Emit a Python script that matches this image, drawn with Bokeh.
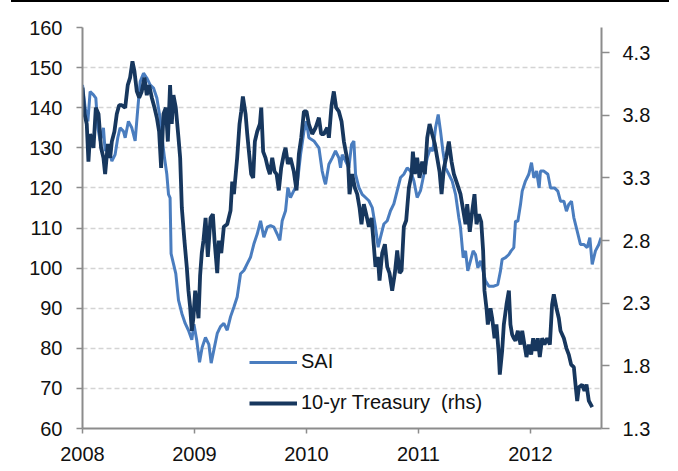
from bokeh.plotting import figure
from bokeh.models import (Range1d, LinearAxis, FixedTicker, PrintfTickFormatter,
                          Legend, LegendItem, Div)
from bokeh.layouts import column
from bokeh.embed import file_html
from bokeh.resources import INLINE

# ---------------- data ----------------
sai_t = [2008.000, 2008.024, 2008.048, 2008.068, 2008.098, 2008.119, 2008.137, 2008.158, 2008.187, 2008.202,
         2008.232, 2008.262, 2008.291, 2008.315, 2008.336, 2008.366, 2008.381, 2008.410, 2008.440, 2008.470,
         2008.494, 2008.515, 2008.545, 2008.574, 2008.604, 2008.634, 2008.664, 2008.693, 2008.714, 2008.732,
         2008.753, 2008.768, 2008.782, 2008.791, 2008.812, 2008.833, 2008.857, 2008.887, 2008.917, 2008.946,
         2008.976, 2008.995, 2009.020, 2009.045, 2009.068, 2009.098, 2009.128, 2009.149, 2009.173, 2009.203,
         2009.232, 2009.262, 2009.292, 2009.322, 2009.352, 2009.381, 2009.411, 2009.441, 2009.471, 2009.500,
         2009.530, 2009.560, 2009.590, 2009.619, 2009.649, 2009.679, 2009.709, 2009.738, 2009.762, 2009.783,
         2009.813, 2009.834, 2009.857, 2009.887, 2009.917, 2009.947, 2009.977, 2010.000, 2010.021, 2010.066,
         2010.111, 2010.140, 2010.161, 2010.170, 2010.200, 2010.230, 2010.259, 2010.289, 2010.304, 2010.319,
         2010.349, 2010.378, 2010.402, 2010.423, 2010.438, 2010.468, 2010.497, 2010.527, 2010.557, 2010.587,
         2010.616, 2010.640, 2010.661, 2010.691, 2010.721, 2010.750, 2010.780, 2010.810, 2010.840, 2010.869,
         2010.899, 2010.929, 2010.959, 2010.988, 2011.018, 2011.048, 2011.078, 2011.107, 2011.128, 2011.152,
         2011.176, 2011.197, 2011.218, 2011.241, 2011.271, 2011.301, 2011.331, 2011.360, 2011.375, 2011.399,
         2011.420, 2011.440, 2011.464, 2011.488, 2011.509, 2011.530, 2011.554, 2011.577, 2011.598, 2011.628,
         2011.673, 2011.708, 2011.732, 2011.747, 2011.777, 2011.807, 2011.827, 2011.851, 2011.866, 2011.887,
         2011.911, 2011.926, 2011.955, 2011.985, 2012.009, 2012.030, 2012.054, 2012.077, 2012.089, 2012.119,
         2012.155, 2012.179, 2012.214, 2012.244, 2012.268, 2012.298, 2012.321, 2012.342, 2012.366, 2012.387,
         2012.417, 2012.446, 2012.476, 2012.506, 2012.530, 2012.551, 2012.580, 2012.610, 2012.630]
sai_v = [145.7, 139.9, 136.6, 144.0, 143.2, 142.4, 135.0, 131.7, 135.0, 129.2,
         130.0, 126.7, 128.3, 132.5, 135.0, 134.1, 132.5, 136.6, 135.0, 131.7,
         139.9, 146.5, 148.6, 147.4, 145.7, 144.9, 142.4, 137.4, 131.7, 127.5,
         123.4, 118.4, 117.5, 103.6, 101.1, 98.6, 92.0, 88.7, 86.2, 84.5,
         82.1, 86.0, 82.0, 76.5, 80.2, 82.7, 81.0, 76.3, 79.6, 83.7,
         85.4, 86.2, 84.5, 87.9, 90.3, 92.8, 98.6, 99.4, 101.1, 102.7,
         106.0, 108.5, 111.8, 107.7, 110.2, 110.6, 110.2, 108.5, 106.9, 111.8,
         114.3, 120.1, 117.6, 119.3, 120.9, 128.3, 134.1, 136.6, 132.5, 131.7,
         130.0, 124.2, 121.7, 120.9, 125.9, 127.5, 129.2, 127.5, 125.0, 128.3,
         126.7, 125.0, 130.8, 131.7, 123.4, 120.1, 118.4, 117.6, 116.8, 115.1,
         110.2, 105.2, 107.7, 111.0, 111.8, 114.3, 116.0, 119.3, 122.6, 123.4,
         125.0, 124.2, 121.7, 117.6, 119.3, 123.4, 127.5, 130.0, 129.2, 135.0,
         138.3, 134.1, 129.2, 125.0, 123.4, 121.7, 118.4, 112.6, 110.1, 102.6,
         104.3, 99.3, 101.8, 104.3, 103.4, 100.1, 101.8, 99.3, 96.8, 95.5,
         95.5, 95.9, 99.3, 102.2, 102.6, 103.4, 104.3, 105.1, 111.7, 111.7,
         115.9, 119.2, 121.7, 123.4, 126.3, 122.5, 124.2, 120.0, 124.2, 124.2,
         123.4, 120.0, 120.0, 119.2, 116.7, 116.7, 114.2, 115.9, 116.7, 112.6,
         109.2, 105.9, 105.9, 105.1, 107.6, 100.9, 104.3, 105.9, 107.6]

tsy_t = [2008.000, 2008.018, 2008.038, 2008.053, 2008.068, 2008.083, 2008.098, 2008.119, 2008.143, 2008.166,
         2008.187, 2008.202, 2008.226, 2008.247, 2008.262, 2008.285, 2008.306, 2008.327, 2008.351, 2008.381,
         2008.404, 2008.425, 2008.446, 2008.464, 2008.485, 2008.506, 2008.529, 2008.553, 2008.574, 2008.595,
         2008.619, 2008.643, 2008.664, 2008.684, 2008.702, 2008.723, 2008.744, 2008.762, 2008.782, 2008.797,
         2008.812, 2008.833, 2008.857, 2008.872, 2008.887, 2008.910, 2008.931, 2008.946, 2008.961, 2008.976,
         2008.991, 2009.006, 2009.021, 2009.036, 2009.050, 2009.065, 2009.080, 2009.099, 2009.119, 2009.143,
         2009.164, 2009.179, 2009.203, 2009.218, 2009.239, 2009.262, 2009.292, 2009.322, 2009.337, 2009.352,
         2009.381, 2009.402, 2009.417, 2009.432, 2009.456, 2009.471, 2009.486, 2009.506, 2009.524, 2009.539,
         2009.560, 2009.584, 2009.596, 2009.613, 2009.634, 2009.655, 2009.673, 2009.694, 2009.715, 2009.733,
         2009.753, 2009.774, 2009.798, 2009.813, 2009.834, 2009.857, 2009.887, 2009.911, 2009.932, 2009.953,
         2009.977, 2010.000, 2010.021, 2010.051, 2010.081, 2010.111, 2010.131, 2010.155, 2010.185, 2010.200,
         2010.224, 2010.244, 2010.265, 2010.289, 2010.313, 2010.334, 2010.355, 2010.372, 2010.384, 2010.408,
         2010.432, 2010.453, 2010.474, 2010.491, 2010.512, 2010.533, 2010.557, 2010.581, 2010.602, 2010.616,
         2010.637, 2010.652, 2010.676, 2010.700, 2010.721, 2010.741, 2010.765, 2010.789, 2010.810, 2010.831,
         2010.849, 2010.869, 2010.890, 2010.914, 2010.938, 2010.950, 2010.968, 2010.988, 2011.009, 2011.033,
         2011.057, 2011.078, 2011.099, 2011.122, 2011.146, 2011.167, 2011.188, 2011.206, 2011.227, 2011.247,
         2011.271, 2011.295, 2011.316, 2011.346, 2011.375, 2011.405, 2011.420, 2011.435, 2011.458, 2011.479,
         2011.500, 2011.518, 2011.539, 2011.560, 2011.577, 2011.589, 2011.607, 2011.619, 2011.643, 2011.658,
         2011.679, 2011.696, 2011.717, 2011.726, 2011.747, 2011.762, 2011.786, 2011.807, 2011.821, 2011.836,
         2011.851, 2011.866, 2011.887, 2011.911, 2011.926, 2011.946, 2011.964, 2011.985, 2012.006, 2012.024,
         2012.045, 2012.065, 2012.083, 2012.104, 2012.125, 2012.149, 2012.173, 2012.193, 2012.208, 2012.232,
         2012.253, 2012.268, 2012.298, 2012.321, 2012.342, 2012.363, 2012.387, 2012.402, 2012.417, 2012.432,
         2012.461, 2012.482, 2012.500, 2012.521, 2012.551]
tsy_v = [4.02, 3.81, 3.73, 3.43, 3.65, 3.59, 3.54, 3.86, 3.81, 3.54,
         3.46, 3.33, 3.57, 3.46, 3.59, 3.67, 3.81, 3.88, 3.88, 3.86,
         4.04, 4.10, 4.23, 4.15, 3.99, 3.94, 3.99, 4.10, 3.96, 4.04,
         3.94, 3.86, 3.78, 3.67, 3.38, 3.81, 3.86, 3.59, 4.04, 3.73,
         3.96, 3.86, 3.62, 3.46, 3.06, 2.80, 2.59, 2.40, 2.27, 2.08,
         2.19, 2.40, 2.30, 2.18, 2.52, 2.70, 2.80, 2.98, 2.67, 2.98,
         3.01, 2.80, 2.54, 2.80, 2.70, 2.91, 2.93, 3.04, 3.27, 3.17,
         3.46, 3.73, 3.83, 3.95, 3.81, 3.65, 3.51, 3.33, 3.30, 3.59,
         3.67, 3.73, 3.86, 3.51, 3.46, 3.38, 3.33, 3.46, 3.35, 3.33,
         3.20, 3.38, 3.49, 3.54, 3.41, 3.46, 3.35, 3.20, 3.49, 3.62,
         3.83, 3.83, 3.73, 3.65, 3.70, 3.78, 3.65, 3.65, 3.70, 3.62,
         3.88, 3.99, 3.86, 3.83, 3.75, 3.59, 3.49, 3.41, 3.17, 3.33,
         3.22, 3.17, 3.06, 2.93, 3.09, 3.01, 2.91, 2.98, 2.75, 2.59,
         2.67, 2.48, 2.70, 2.77, 2.59, 2.54, 2.40, 2.54, 2.72, 2.54,
         2.56, 2.91, 2.96, 3.22, 3.33, 3.51, 3.33, 3.46, 3.30, 3.43,
         3.33, 3.62, 3.73, 3.65, 3.57, 3.46, 3.35, 3.17, 3.38, 3.46,
         3.59, 3.43, 3.33, 3.25, 3.17, 3.01, 2.93, 3.09, 2.87, 3.03,
         3.17, 2.93, 3.01, 2.95, 2.72, 2.40, 2.26, 2.13, 2.26, 2.18,
         2.02, 2.13, 1.89, 1.73, 1.92, 2.13, 2.29, 2.40, 2.13, 2.05,
         2.02, 2.00, 2.08, 1.97, 2.08, 1.97, 1.87, 1.97, 1.89, 2.02,
         1.92, 2.02, 1.87, 2.02, 1.97, 2.02, 1.97, 2.29, 2.37, 2.26,
         2.18, 2.08, 2.02, 1.94, 1.89, 1.81, 1.79, 1.65, 1.52, 1.63,
         1.65, 1.60, 1.65, 1.52, 1.47]

left_ticks = [60, 70, 80, 90, 100, 110, 120, 130, 140, 150, 160]
right_ticks = [1.3, 1.8, 2.3, 2.8, 3.3, 3.8, 4.3]
year_ticks = [2008, 2009, 2010, 2011, 2012]

SAI_COLOR = "#4a7dbf"
TSY_COLOR = "#17375e"
AXIS_COLOR = "#8c8c8c"
FONT = "Liberation Sans"

p = figure(width=670, height=469, output_backend="svg", toolbar_location=None,
           x_range=Range1d(2008.0, 2012.634), y_range=Range1d(60, 160),
           min_border_left=82, min_border_right=69, min_border_top=25, min_border_bottom=43)
p.extra_y_ranges = {"rhs": Range1d(1.3, 4.5)}
p.outline_line_color = None
p.background_fill_color = "white"
p.border_fill_color = "white"

r_sai = p.line(sai_t, sai_v, line_color=SAI_COLOR, line_width=3.0)
r_tsy = p.line(tsy_t, tsy_v, line_color=TSY_COLOR, line_width=3.8, y_range_name="rhs")

def style_axis(ax, tick_out):
    ax.axis_line_color = AXIS_COLOR
    ax.axis_line_width = 2
    ax.major_tick_line_color = AXIS_COLOR
    ax.major_tick_line_width = 1.5
    ax.major_tick_in = 0
    ax.major_tick_out = tick_out
    ax.minor_tick_line_color = None
    ax.major_label_text_font = FONT
    ax.major_label_text_font_size = "20px"
    ax.major_label_text_color = "#111111"

xa = p.xaxis[0]
xa.ticker = FixedTicker(ticks=year_ticks)
style_axis(xa, 5)
xa.major_label_standoff = 13

ya = p.yaxis[0]
ya.ticker = FixedTicker(ticks=left_ticks)
style_axis(ya, 6)
ya.major_label_standoff = 14

ra = LinearAxis(y_range_name="rhs", ticker=FixedTicker(ticks=right_ticks),
                formatter=PrintfTickFormatter(format="%.1f"))
style_axis(ra, 8)
ra.major_label_standoff = 13
p.add_layout(ra, "right")

p.xgrid.grid_line_color = None
p.ygrid.grid_line_color = "#d4d4d4"
p.ygrid.grid_line_width = 1.5
p.ygrid.grid_line_dash = "5 3"

legend = Legend(items=[LegendItem(label="SAI", renderers=[r_sai]),
                       LegendItem(label="10-yr Treasury  (rhs)", renderers=[r_tsy])],
                location=(167, 14), orientation="vertical",
                glyph_width=48, glyph_height=20, label_height=20, label_standoff=4,
                spacing=18, padding=0, margin=0,
                label_text_font=FONT, label_text_font_size="20px", label_text_color="#111111",
                border_line_color=None, background_fill_alpha=0)
p.add_layout(legend)

top_rule = Div(text="", width=658, height=2, margin=(0, 0, 0, 11),
               styles={"background-color": "#000000"})

layout = column(top_rule, p, spacing=0)
open("out.html", "w").write(file_html(layout, INLINE))
